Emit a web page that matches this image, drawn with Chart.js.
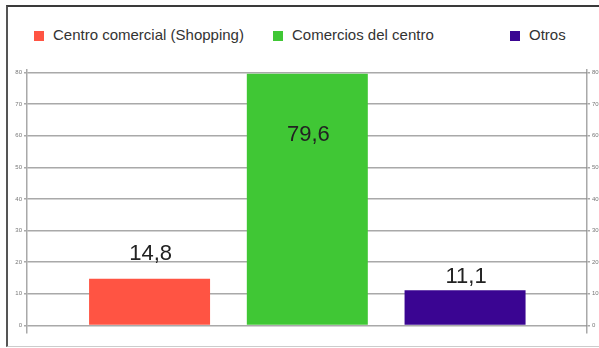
<!DOCTYPE html>
<html>
<head>
<meta charset="utf-8">
<script src="https://cdn.jsdelivr.net/npm/chart.js@4"></script>
<style>
    html, body { margin: 0; padding: 0; background: #fff; }
    #wrap { position: relative; width: 599px; height: 348px; }
    #frame {
        position: absolute; left: 6px; top: 5px; right: 0; bottom: 1px;
        border-top: 2px solid #3a3a3a;
        border-left: 2px solid #555;
        border-bottom: 1px solid #ccc;
    }
    #legend { position: absolute; left: 0; top: 0; width: 599px; height: 60px;
        font-family: "Liberation Sans", Arial, sans-serif; font-size: 15px; color: #333; }
    .item { position: absolute; top: 26px; white-space: nowrap; line-height: 17px; }
    .item i { display: inline-block; width: 10px; height: 10px; margin-right: 9px; vertical-align: -1px; }
    canvas { position: absolute; left: 0; top: 0; }
</style>
</head>
<body>
<div id="wrap">
    <div id="frame"></div>
    <div id="legend"></div>
    <canvas id="chart" width="599" height="348"></canvas>
</div>
<script>
const categorias = ['Centro comercial (Shopping)', 'Comercios del centro', 'Otros'];
const porcentajes = [14.8, 79.6, 11.1];
const cores = ['#ff5443', '#40c735', '#3a0592'];
const yTicks = [0, 10, 20, 30, 40, 50, 60, 70, 80];

// legend items sit at uneven spots along the top
const legendLeft = [34, 273, 510];
const legend = document.getElementById('legend');
categorias.forEach((nome, i) => {
    const el = document.createElement('div');
    el.className = 'item';
    el.style.left = legendLeft[i] + 'px';
    el.innerHTML = `<i style="background:${cores[i]}"></i>${nome}`;
    legend.appendChild(el);
});

// vertical shift of each value label, relative to the bar top
const labelShift = [-25, 61, -13];

const valueLabels = {
    id: 'valueLabels',
    afterDatasetsDraw(chart) {
        const ctx = chart.ctx;
        const meta = chart.getDatasetMeta(0);
        ctx.save();
        ctx.font = '22px "Liberation Sans", Arial, sans-serif';
        ctx.fillStyle = '#222';
        ctx.textAlign = 'center';
        ctx.textBaseline = 'middle';
        meta.data.forEach((bar, i) => {
            const txt = porcentajes[i].toFixed(1).replace('.', ',');
            ctx.fillText(txt, bar.x + 1, bar.y + labelShift[i]);
        });
        ctx.restore();
    }
};

const tickFont = { family: '"Liberation Sans", Arial, sans-serif', size: 6 };
const gridColor = 'rgba(140,140,140,0.75)';

function keepTicks(scale) {
    scale.ticks = scale.ticks.filter(t => yTicks.includes(t.value));
}

new Chart(document.getElementById('chart').getContext('2d'), {
    type: 'bar',
    data: {
        datasets: [{
            data: porcentajes.map((v, i) => ({ x: i + 1, y: v })),
            backgroundColor: cores,
            borderWidth: 0,
            categoryPercentage: 1,
            barPercentage: 0.767
        }]
    },
    options: {
        responsive: false,
        animation: false,
        layout: { padding: { top: 70, bottom: 15, left: 0, right: 0 } },
        plugins: { legend: { display: false }, tooltip: { enabled: false } },
        scales: {
            x: {
                type: 'linear', min: 0.223, max: 3.773, offset: false, display: false,
                ticks: { stepSize: 1, includeBounds: false }
            },
            y: {
                position: 'left',
                min: -2.4, max: 80.8,
                afterBuildTicks: keepTicks,
                afterFit: s => { s.width = 27; },
                ticks: { stepSize: 10, includeBounds: false, font: tickFont, color: '#777', padding: 2 },
                grid: { color: gridColor, lineWidth: 1.5, tickLength: 3 },
                border: { color: gridColor, width: 1.5 }
            },
            y2: {
                position: 'right',
                min: -2.4, max: 80.8,
                afterBuildTicks: keepTicks,
                afterFit: s => { s.width = 12; },
                ticks: { stepSize: 10, includeBounds: false, font: tickFont, color: '#777', padding: 2 },
                grid: { drawOnChartArea: false, color: gridColor, lineWidth: 1.5, tickLength: 3 },
                border: { color: gridColor, width: 1.5 }
            }
        }
    },
    plugins: [valueLabels]
});
</script>
</body>
</html>
